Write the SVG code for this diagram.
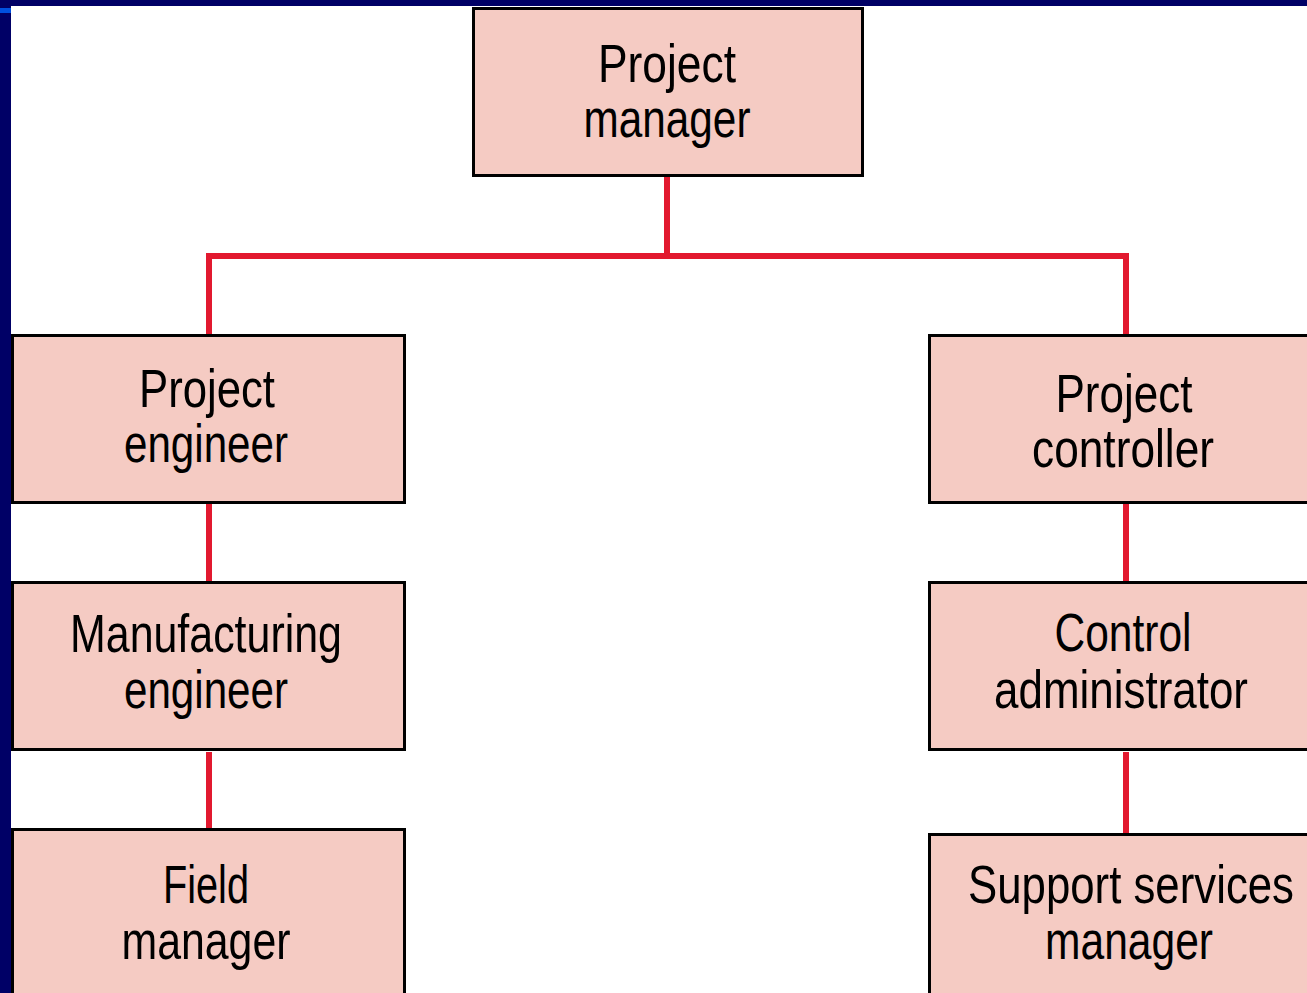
<svg xmlns="http://www.w3.org/2000/svg" width="1307" height="993" viewBox="0 0 1307 993">
<style>
.box{fill:#f5cbc3;stroke:#000;stroke-width:3}
.lbl{font-family:"Liberation Sans",Arial,sans-serif;font-size:54px;fill:#000;text-anchor:middle}
.con{fill:none;stroke:#e2192f;stroke-width:6}
</style>
<rect x="0" y="0" width="1307" height="993" fill="#ffffff"/>
<rect x="0" y="0" width="1307" height="6" fill="#000066"/>
<rect x="0" y="0" width="11" height="993" fill="#000066"/>
<rect x="0" y="8" width="11" height="5" fill="#0050e0"/>
<g id="connectors">
<path class="con" d="M667 176V256M206 256H1129M209 256V334M1126 256V334M209 504V581M209 752V828M1126 504V581M1126 752V833"/>
</g>
<g id="project-manager">
<rect class="box" x="473.5" y="8.5" width="389" height="167"/>
<text class="lbl" x="667" y="82" textLength="138" lengthAdjust="spacingAndGlyphs">Project</text>
<text class="lbl" x="667" y="137" textLength="167" lengthAdjust="spacingAndGlyphs">manager</text>
</g>
<g id="project-engineer">
<rect class="box" x="12.5" y="335.5" width="392" height="167"/>
<text class="lbl" x="207" y="407" textLength="136" lengthAdjust="spacingAndGlyphs">Project</text>
<text class="lbl" x="206" y="462" textLength="164" lengthAdjust="spacingAndGlyphs">engineer</text>
</g>
<g id="manufacturing-engineer">
<rect class="box" x="12.5" y="582.5" width="392" height="167"/>
<text class="lbl" x="206" y="652" textLength="272" lengthAdjust="spacingAndGlyphs">Manufacturing</text>
<text class="lbl" x="206" y="708" textLength="164" lengthAdjust="spacingAndGlyphs">engineer</text>
</g>
<g id="field-manager">
<rect class="box" x="12.5" y="829.5" width="392" height="180"/>
<text class="lbl" x="206" y="903" textLength="86" lengthAdjust="spacingAndGlyphs">Field</text>
<text class="lbl" x="206" y="959" textLength="169" lengthAdjust="spacingAndGlyphs">manager</text>
</g>
<g id="project-controller">
<rect class="box" x="929.5" y="335.5" width="390" height="167"/>
<text class="lbl" x="1124" y="412" textLength="137" lengthAdjust="spacingAndGlyphs">Project</text>
<text class="lbl" x="1123" y="467" textLength="182" lengthAdjust="spacingAndGlyphs">controller</text>
</g>
<g id="control-administrator">
<rect class="box" x="929.5" y="582.5" width="390" height="167"/>
<text class="lbl" x="1123" y="651" textLength="137" lengthAdjust="spacingAndGlyphs">Control</text>
<text class="lbl" x="1121" y="708" textLength="254" lengthAdjust="spacingAndGlyphs">administrator</text>
</g>
<g id="support-services-manager">
<rect class="box" x="929.5" y="834.5" width="390" height="180"/>
<text class="lbl" x="1131" y="903" textLength="326" lengthAdjust="spacingAndGlyphs">Support services</text>
<text class="lbl" x="1129" y="959" textLength="168" lengthAdjust="spacingAndGlyphs">manager</text>
</g>
</svg>
